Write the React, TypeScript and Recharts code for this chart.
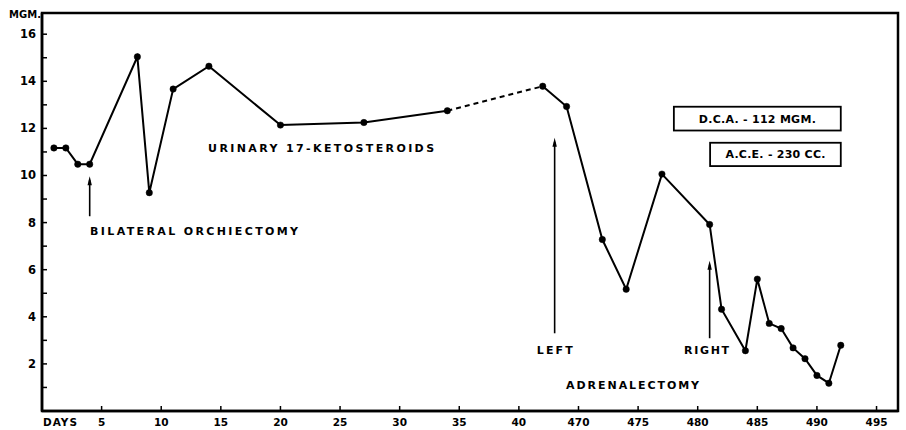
import {
  ComposedChart,
  Line,
  XAxis,
  YAxis,
  ReferenceArea,
  ReferenceLine,
  ReferenceDot,
} from "recharts";

// urinary 17-ketosteroids, mgm per day
const DAYS = [1, 2, 3, 4, 8, 9, 11, 14, 20, 27, 34, 467, 469, 472, 474, 477, 481, 482, 484, 485, 486, 487, 488, 489, 490, 491, 492];
const MGM = [11.17, 11.17, 10.48, 10.48, 15.04, 9.27, 13.67, 14.64, 12.14, 12.25, 12.75, 13.79, 12.93, 7.28, 5.17, 10.06, 7.92, 4.32, 2.56, 5.6, 3.72, 3.5, 2.68, 2.22, 1.51, 1.18, 2.79];

const X_TICKS = [0, 5, 10, 15, 20, 25, 30, 35, 40, 470, 475, 480, 485, 490, 495];
const Y_TICKS = [1, 2, 3, 4, 5, 6, 7, 8, 9, 10, 11, 12, 13, 14, 15, 16];
const Y_LABELS = [2, 4, 6, 8, 10, 12, 14, 16];

// axis is broken between day 40 and day 470
const BREAK = 425;
const toAxis = (d: number) => (d <= 45 ? d : d - BREAK);
const X_MAX = 71.8;
const Y_MAX = 16.9;

const points = DAYS.map((d, i) => ({ x: toAxis(d), y: MGM[i] }));
const gapStart = DAYS.indexOf(34);
const before = points.slice(0, gapStart + 1);
const gap = points.slice(gapStart, gapStart + 2);
const after = points.slice(gapStart + 1);

const ARROWS = [
  { day: 4, from: 8.27, to: 9.97 },
  { day: 468, from: 3.3, to: 11.6 },
  { day: 481, from: 3.09, to: 6.38 },
];

const LABELS = [
  { text: "URINARY 17-KETOSTEROIDS", day: 13.93, value: 11.0, len: 226 },
  { text: "BILATERAL ORCHIECTOMY", day: 4.03, value: 7.48, len: 208 },
  { text: "LEFT", day: 466.5, value: 2.44, len: 36 },
  { text: "RIGHT", day: 478.86, value: 2.44, len: 45 },
  { text: "ADRENALECTOMY", day: 468.96, value: 0.92, len: 133 },
];

const BOXES = [
  { text: "D.C.A. - 112 MGM.", x1: 478, x2: 492, y1: 11.91, y2: 12.92, len: 117 },
  { text: "A.C.E. - 230 CC.", x1: 481.04, x2: 492, y1: 10.4, y2: 11.39, len: 100 },
];

const FONT = "'DejaVu Sans', sans-serif";

function XTick({ x, y, payload }: any) {
  const v = payload.value as number;
  const label = v === 0 ? "DAYS" : String(v <= 40 ? v : v + BREAK);
  return (
    <g>
      {v !== 0 && <line x1={x} x2={x} y1={y} y2={y - 5} stroke="#000" strokeWidth={1.5} />}
      <text
        x={v === 0 ? x + 1 : x}
        y={y + 15}
        textAnchor={v === 0 ? "start" : "middle"}
        fontFamily={FONT}
        fontWeight="bold"
        fontSize={10.5}
        letterSpacing={v === 0 ? 1 : 0}
        fill="#000"
      >
        {label}
      </text>
    </g>
  );
}

function YTick({ x, y, payload }: any) {
  const v = payload.value as number;
  return (
    <g>
      <line x1={x} x2={x + 5} y1={y} y2={y} stroke="#000" strokeWidth={1.5} />
      {Y_LABELS.includes(v) && (
        <text x={x - 6} y={y + 4} textAnchor="end" fontFamily={FONT} fontWeight="bold" fontSize={11.5} fill="#000">
          {v}
        </text>
      )}
    </g>
  );
}

function Arrow({ x1, y1, x2, y2 }: any) {
  return (
    <g>
      <line x1={x1} y1={y1} x2={x2} y2={y2 + 4} stroke="#000" strokeWidth={1.6} />
      <polygon points={`${x2},${y2} ${x2 - 2.2},${y2 + 9} ${x2 + 2.2},${y2 + 9}`} fill="#000" />
    </g>
  );
}

export default function App() {
  return (
    <div style={{ position: "absolute", left: 0, top: 0, background: "#fff" }}>
      <ComposedChart width={906} height={430} margin={{ top: 13, right: 8, bottom: 0, left: 12 }}>
        <XAxis
          type="number"
          dataKey="x"
          domain={[0, X_MAX]}
          ticks={X_TICKS.map(toAxis)}
          allowDataOverflow
          height={19}
          tickSize={0}
          tickMargin={0}
          tickLine={false}
          tick={<XTick />}
          axisLine={{ stroke: "#000", strokeWidth: 2.5 }}
          interval={0}
        />
        <YAxis
          type="number"
          dataKey="y"
          domain={[0, Y_MAX]}
          ticks={Y_TICKS}
          allowDataOverflow
          width={30}
          tickSize={0}
          tickMargin={0}
          tickLine={false}
          tick={<YTick />}
          axisLine={{ stroke: "#000", strokeWidth: 2.5 }}
          interval={0}
        />
        <ReferenceArea x1={0} x2={X_MAX} y1={0} y2={Y_MAX} fill="none" stroke="#000" strokeWidth={2.5} fillOpacity={0} />
        <Line data={gap} dataKey="y" stroke="#000" strokeWidth={2} strokeDasharray="5 4" dot={false} isAnimationActive={false} />
        <Line data={before} dataKey="y" stroke="#000" strokeWidth={2} dot={{ r: 3.2, fill: "#000", stroke: "#000", strokeWidth: 0.5 }} isAnimationActive={false} />
        <Line data={after} dataKey="y" stroke="#000" strokeWidth={2} dot={{ r: 3.2, fill: "#000", stroke: "#000", strokeWidth: 0.5 }} isAnimationActive={false} />
        {ARROWS.map((a, i) => (
          <ReferenceLine
            key={"a" + i}
            segment={[
              { x: toAxis(a.day), y: a.from },
              { x: toAxis(a.day), y: a.to },
            ]}
            shape={(p: any) => <Arrow {...p} />}
          />
        ))}
        {LABELS.map((l, i) => (
          <ReferenceDot
            key={"l" + i}
            x={toAxis(l.day)}
            y={l.value}
            shape={(p: any) => (
              <text x={p.cx} y={p.cy} fontFamily={FONT} fontWeight="bold" fontSize={11} fill="#000" textLength={l.len} lengthAdjust="spacing">
                {l.text}
              </text>
            )}
          />
        ))}
        {BOXES.map((b, i) => (
          <ReferenceArea
            key={"b" + i}
            x1={toAxis(b.x1)}
            x2={toAxis(b.x2)}
            y1={b.y1}
            y2={b.y2}
            shape={(p: any) => (
              <g>
                <rect x={p.x} y={p.y} width={p.width} height={p.height} fill="#fff" stroke="#000" strokeWidth={1.8} />
                <text
                  x={p.x + p.width / 2}
                  y={p.y + p.height / 2 + 4}
                  textAnchor="middle"
                  fontFamily={FONT}
                  fontWeight="bold"
                  fontSize={11}
                  fill="#000"
                  textLength={b.len}
                  lengthAdjust="spacing"
                >
                  {b.text}
                </text>
              </g>
            )}
          />
        ))}
        <ReferenceDot
          x={0}
          y={Y_MAX}
          ifOverflow="visible"
          shape={(p: any) => (
            <text x={p.cx - 1} y={p.cy + 5} textAnchor="end" fontFamily={FONT} fontWeight="bold" fontSize={10} fill="#000">
              MGM.
            </text>
          )}
        />
      </ComposedChart>
    </div>
  );
}
